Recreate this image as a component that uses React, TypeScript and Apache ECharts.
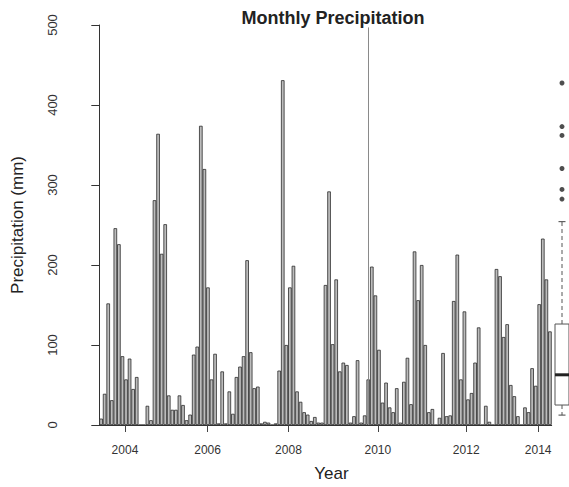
import React, { useEffect, useRef } from "react";
import * as echarts from "echarts";

// Monthly precipitation (mm), one bar per month, left to right
const precipitation: number[] = [
  8, 39, 152, 31, 246, 226, 86, 57, 83, 45, 60, 0, 0, 24, 6, 281, 364, 214, 251, 37,
  19, 19, 37, 25, 6, 13, 88, 98, 374, 320, 172, 57, 89, 2, 67, 2, 42, 14, 60, 73,
  86, 206, 91, 46, 48, 2, 4, 3, 0, 2, 68, 431, 100, 172, 199, 42, 29, 16, 13, 5,
  10, 3, 3, 175, 292, 101, 182, 67, 78, 75, 3, 11, 81, 3, 12, 57, 198, 162, 94, 28,
  53, 22, 16, 46, 3, 54, 84, 26, 217, 156, 200, 100, 16, 20, 0, 9, 90, 11, 12, 155,
  213, 57, 142, 32, 40, 78, 122, 0, 24, 4, 0, 195, 186, 110, 126, 50, 36, 11, 0, 22,
  16, 71, 49, 151, 233, 182, 117,
];
const categories: string[] = precipitation.map((_, i) => String(i + 1));

// x tick labels and their positions (in bar units from the first bar's left edge)
const tickLabels: string[] = ["2004", "2006", "2008", "2010", "2012", "2014"];
const tickPositions: number[] = [7.2, 30.4, 53.1, 78.2, 103.0, 123.2];

// vertical reference line position (bar units)
const referenceLine: number = 75.6;

// y axis ticks
const yTicks: number[] = [0, 100, 200, 300, 400, 500];

// boxplot summary: [lower whisker, Q1, median, Q3, upper whisker]
const boxStats: number[] = [16, 28.5, 66, 129, 256];
const outliers: number[] = [428, 374, 363, 322, 296, 284];

const FONT = "'Liberation Sans', Arial, Helvetica, sans-serif";

export default function App() {
  const ref = useRef<HTMLDivElement>(null);
  useEffect(() => {
    if (!ref.current) return;
    const chart = echarts.init(ref.current, undefined, { renderer: "svg" });
    const n = precipitation.length;
    const option: any = {
      animation: false,
      backgroundColor: "#ffffff",
      textStyle: { fontFamily: FONT },
      title: {
        text: "Monthly Precipitation",
        left: 328,
        top: 4,
        textAlign: "center",
        textStyle: { fontFamily: FONT, fontSize: 18, fontWeight: "bold", color: "#222" },
      },
      grid: [
        { left: 99.3, right: 17.3, top: 25, bottom: 59 },
        { left: 555, width: 18, top: 25, height: 403 },
      ],
      xAxis: [
        {
          type: "category",
          gridIndex: 0,
          data: categories,
          boundaryGap: true,
          axisLine: { show: true, lineStyle: { color: "#333", width: 1 } },
          axisTick: { show: false },
          axisLabel: { show: false },
          splitLine: { show: false },
        },
        {
          type: "value",
          gridIndex: 0,
          min: 0,
          max: n,
          position: "bottom",
          axisLine: { show: false },
          axisTick: {
            show: true,
            length: 7,
            customValues: tickPositions,
            lineStyle: { color: "#444", width: 1 },
          },
          axisLabel: {
            show: true,
            customValues: tickPositions,
            margin: 19,
            fontSize: 12,
            color: "#333",
            fontFamily: FONT,
            formatter: (v: number) => {
              const idx = tickPositions.findIndex((p) => Math.abs(p - v) < 1e-6);
              return idx >= 0 ? tickLabels[idx] : "";
            },
          },
          splitLine: { show: false },
          name: "Year",
          nameLocation: "middle",
          nameGap: 40,
          nameTextStyle: { fontSize: 17, color: "#222", fontFamily: FONT, padding: [0, 0, 0, 12] },
        },
        {
          type: "value",
          gridIndex: 1,
          min: -1,
          max: 1,
          show: false,
        },
      ],
      yAxis: [
        {
          type: "value",
          gridIndex: 0,
          min: 0,
          max: 500,
          interval: 100,
          offset: 23,
          axisLine: { show: true, lineStyle: { color: "#333", width: 1 } },
          axisTick: { show: true, length: 8, lineStyle: { color: "#333" } },
          axisLabel: {
            rotate: 90,
            margin: 17,
            fontSize: 13,
            color: "#333",
            fontFamily: FONT,
            formatter: (v: number) => (yTicks.includes(v) ? String(v) : ""),
          },
          splitLine: { show: false },
          name: "Precipitation (mm)",
          nameLocation: "middle",
          nameGap: 50,
          nameTextStyle: { fontSize: 17, color: "#222", fontFamily: FONT },
        },
        {
          type: "value",
          gridIndex: 1,
          min: 0,
          max: 500,
          show: false,
        },
      ],
      series: [
        {
          type: "bar",
          xAxisIndex: 0,
          yAxisIndex: 0,
          data: precipitation,
          barCategoryGap: "0%",
          itemStyle: { color: "#bcbcbc", borderColor: "#2b2b2b", borderWidth: 0.8 },
          silent: true,
        },
        {
          type: "line",
          xAxisIndex: 1,
          yAxisIndex: 0,
          data: [],
          silent: true,
          markLine: {
            silent: true,
            symbol: "none",
            label: { show: false },
            lineStyle: { color: "#8a8a8a", width: 1, type: "solid" },
            data: [[{ coord: [referenceLine, 0] }, { coord: [referenceLine, 497] }]],
          },
        },
        {
          type: "custom",
          xAxisIndex: 2,
          yAxisIndex: 1,
          data: [[0, ...boxStats]],
          silent: true,
          renderItem: (params: any, api: any) => {
            const lo = api.value(1);
            const q1 = api.value(2);
            const med = api.value(3);
            const q3 = api.value(4);
            const hi = api.value(5);
            const pTL = api.coord([-1, q3]);
            const pBR = api.coord([1, q1]);
            const cx = api.coord([0, 0])[0];
            const capL = api.coord([-0.5, 0])[0];
            const capR = api.coord([0.5, 0])[0];
            const yHi = api.coord([0, hi])[1];
            const yLo = api.coord([0, lo])[1];
            const yMed = api.coord([0, med])[1];
            const whisk = { stroke: "#555", lineWidth: 1, lineDash: [4, 3] };
            return {
              type: "group",
              children: [
                { type: "line", shape: { x1: cx, y1: pTL[1], x2: cx, y2: yHi }, style: whisk },
                { type: "line", shape: { x1: cx, y1: pBR[1], x2: cx, y2: yLo }, style: whisk },
                { type: "line", shape: { x1: capL, y1: yHi, x2: capR, y2: yHi }, style: { stroke: "#444", lineWidth: 1 } },
                { type: "line", shape: { x1: capL, y1: yLo, x2: capR, y2: yLo }, style: { stroke: "#444", lineWidth: 1 } },
                {
                  type: "rect",
                  shape: { x: pTL[0], y: pTL[1], width: pBR[0] - pTL[0], height: pBR[1] - pTL[1] },
                  style: { fill: "#fff", stroke: "#555", lineWidth: 1 },
                },
                { type: "line", shape: { x1: pTL[0], y1: yMed, x2: pBR[0], y2: yMed }, style: { stroke: "#222", lineWidth: 3 } },
              ],
            };
          },
        },
        {
          type: "scatter",
          xAxisIndex: 2,
          yAxisIndex: 1,
          data: outliers.map((v) => [0, v]),
          symbol: "circle",
          symbolSize: 5,
          itemStyle: { color: "#222" },
          silent: true,
        },
      ],
    };
    chart.setOption(option);
    return () => chart.dispose();
  }, []);
  return (
    <div
      ref={ref}
      style={{ position: "fixed", left: 0, top: 0, width: 569, height: 487, background: "#fff" }}
    />
  );
}
